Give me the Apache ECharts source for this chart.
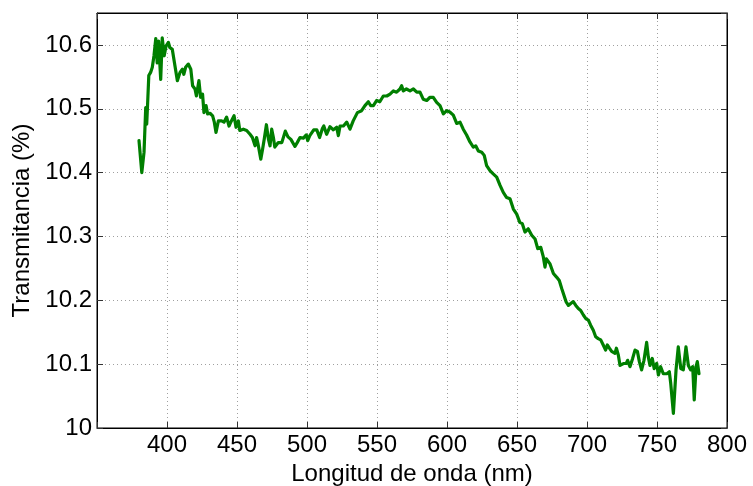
<!DOCTYPE html>
<html>
<head>
<meta charset="utf-8">
<script src="https://cdn.jsdelivr.net/npm/echarts@6/dist/echarts.min.js"></script>
<style>
  html, body { margin: 0; padding: 0; background: #fff; }
  #chart { width: 753px; height: 486px; }
</style>
</head>
<body>
<div id="chart"></div>
<script>
// Spectral transmittance sample: wavelength (nm) and transmittance (%)
const wavelengthNm = [
  380, 382, 383.6, 384.8, 385.5, 386, 387, 388.3, 389.5, 390.7,
  392, 393, 394, 395.5, 396.6, 398, 399.3, 401, 402, 403.8,
  405.7, 407.4, 409.3, 411, 412, 413.3, 415.2, 417, 418.3, 420,
  421, 422.8, 424, 425.4, 426.4, 427.9, 429, 430.7, 432.6, 433.8,
  435, 436.7, 439, 440.7, 442.6, 444.3, 446, 447.9, 449.3, 451,
  452, 454.5, 456.9, 459.3, 461, 462.9, 464, 465, 467, 468.3,
  469.5, 471, 472.4, 473.6, 474.8, 476, 477, 478.4, 479.5, 480.7,
  482, 483, 484.5, 486.4, 488.5, 491.4, 493, 495, 497.4, 499.5,
  500.5, 502, 503.3, 504.8, 507, 509, 511, 512, 514, 516.4,
  518.8, 521.2, 522.4, 523.6, 526, 528.4, 530.7, 533, 536, 539,
  541.4, 543.8, 545.5, 547.4, 549.8, 552, 554.5, 557, 559.3, 561.7,
  564, 566.4, 567.6, 568.8, 571, 573.6, 576, 578.4, 580.7, 583,
  585.5, 587.9, 590.2, 592.6, 595, 596, 597.4, 599.8, 602, 604.5,
  606.9, 609.3, 611.6, 614, 616.4, 618.8, 620.5, 622.4, 624.8, 626.6,
  628.3, 630.7, 633, 635.5, 637.9, 640.2, 642.6, 645, 647.4, 649.8,
  652, 653.8, 655.7, 658, 660.5, 662.9, 664.8, 667, 668.8, 670,
  671, 673.6, 676, 678.4, 680.2, 682, 683, 685, 686.7, 688.4,
  690.2, 692, 693.8, 695.5, 697.4, 699.3, 701, 702.6, 704.5, 706.2,
  708, 709.8, 711.6, 713.3, 714.5, 716, 717.6, 718.8, 720, 721,
  722.4, 723.6, 726, 728, 729, 730.7, 732.6, 734.3, 736, 737.4,
  739, 740.7, 742.6, 743.8, 745, 746.6, 748, 749.8, 751, 752.6,
  754.5, 757, 758.8, 759.8, 761.7, 763.6, 765.2, 767, 768.8, 770.7,
  772.4, 774, 775.5, 776.6, 777.9, 778.8, 780
];

const transmittancePct = [
  10.450, 10.400, 10.432, 10.502, 10.476, 10.500, 10.552, 10.557, 10.565, 10.583,
  10.610, 10.572, 10.606, 10.546, 10.611, 10.583, 10.598, 10.604, 10.596, 10.593,
  10.567, 10.544, 10.557, 10.562, 10.554, 10.565, 10.570, 10.562, 10.536, 10.531,
  10.520, 10.544, 10.518, 10.523, 10.494, 10.505, 10.492, 10.493, 10.489, 10.479,
  10.463, 10.481, 10.481, 10.479, 10.487, 10.473, 10.481, 10.489, 10.471, 10.481,
  10.466, 10.468, 10.466, 10.460, 10.455, 10.442, 10.455, 10.445, 10.421, 10.437,
  10.453, 10.475, 10.453, 10.442, 10.468, 10.455, 10.440, 10.440, 10.447, 10.445,
  10.447, 10.445, 10.465, 10.456, 10.452, 10.441, 10.447, 10.455, 10.454, 10.459,
  10.450, 10.458, 10.455, 10.467, 10.467, 10.455, 10.469, 10.473, 10.460, 10.472,
  10.467, 10.471, 10.458, 10.473, 10.473, 10.479, 10.468, 10.481, 10.494, 10.497,
  10.505, 10.511, 10.505, 10.505, 10.513, 10.511, 10.520, 10.520, 10.523, 10.528,
  10.526, 10.531, 10.536, 10.528, 10.531, 10.528, 10.531, 10.526, 10.526, 10.515,
  10.513, 10.518, 10.518, 10.510, 10.505, 10.505, 10.492, 10.497, 10.495, 10.490,
  10.477, 10.479, 10.468, 10.459, 10.448, 10.440, 10.442, 10.434, 10.432, 10.427,
  10.411, 10.403, 10.398, 10.393, 10.380, 10.369, 10.361, 10.359, 10.343, 10.335,
  10.322, 10.320, 10.307, 10.312, 10.302, 10.296, 10.281, 10.283, 10.268, 10.252,
  10.265, 10.257, 10.242, 10.236, 10.231, 10.218, 10.221, 10.198, 10.192, 10.195,
  10.198, 10.192, 10.187, 10.184, 10.177, 10.171, 10.169, 10.161, 10.153, 10.143,
  10.140, 10.138, 10.130, 10.122, 10.130, 10.125, 10.120, 10.122, 10.117, 10.125,
  10.114, 10.098, 10.101, 10.101, 10.106, 10.096, 10.109, 10.122, 10.120, 10.104,
  10.091, 10.106, 10.134, 10.111, 10.098, 10.109, 10.093, 10.101, 10.083, 10.096,
  10.085, 10.085, 10.088, 10.070, 10.023, 10.091, 10.127, 10.093, 10.091, 10.127,
  10.098, 10.091, 10.096, 10.044, 10.096, 10.104, 10.085
];

// Axis ranges and tick spacing
const xRange = [350, 800];
const xStep = 50;
const yRange = [10, 10.65];
const yStep = 0.1;

const xTitle = 'Longitud de onda (nm)';
const yTitle = 'Transmitancia (%)';

const FONT = '"Liberation Sans", Arial, Helvetica, sans-serif';
const gridLine = { show: true, lineStyle: { color: '#a0a0a0', width: 1, type: [1, 3] } };
const tickIn = { show: true, inside: true, length: 6, lineStyle: { color: '#333', width: 1 } };

const points = wavelengthNm.map((w, i) => [w, transmittancePct[i]]);

const chart = echarts.init(document.getElementById('chart'), null, { renderer: 'canvas' });
chart.setOption({
  animation: false,
  backgroundColor: '#ffffff',
  grid: {
    left: 97, right: 26, top: 13, bottom: 58,
    outerBoundsMode: 'none',
    containLabel: false,
    show: true, borderColor: '#000', borderWidth: 1, backgroundColor: 'transparent'
  },
  xAxis: [
    {
      type: 'value', position: 'bottom',
      min: xRange[0], max: xRange[1], interval: xStep,
      axisLine: { show: true, lineStyle: { color: '#000', width: 1 } },
      axisTick: tickIn,
      splitLine: gridLine,
      axisLabel: {
        color: '#000', fontFamily: FONT, fontSize: 24, margin: 5,
        formatter: v => (v === xRange[0] ? '' : String(v))
      },
      name: xTitle, nameLocation: 'middle', nameGap: 22,
      nameTextStyle: { color: '#000', fontFamily: FONT, fontSize: 24 }
    },
    {
      type: 'value', position: 'top',
      min: xRange[0], max: xRange[1], interval: xStep,
      axisLine: { show: true, lineStyle: { color: '#000', width: 1 } },
      axisTick: tickIn, axisLabel: { show: false }, splitLine: { show: false }
    }
  ],
  yAxis: [
    {
      type: 'value', position: 'left',
      min: yRange[0], max: yRange[1], interval: yStep,
      axisLine: { show: true, lineStyle: { color: '#000', width: 1 } },
      axisTick: tickIn,
      splitLine: gridLine,
      axisLabel: {
        color: '#000', fontFamily: FONT, fontSize: 24, margin: 5,
        showMaxLabel: false,
        formatter: v => (Math.abs(v - yRange[1]) < 1e-9 ? '' : String(Math.round(v * 10) / 10))
      },
      name: yTitle, nameLocation: 'middle', nameGap: 54,
      nameTextStyle: { color: '#000', fontFamily: FONT, fontSize: 24 }
    },
    {
      type: 'value', position: 'right',
      min: yRange[0], max: yRange[1], interval: yStep,
      axisLine: { show: true, lineStyle: { color: '#000', width: 1 } },
      axisTick: tickIn, axisLabel: { show: false }, splitLine: { show: false }
    }
  ],
  series: [
    {
      type: 'line',
      xAxisIndex: 0, yAxisIndex: 0,
      data: points,
      showSymbol: false,
      symbol: 'none',
      lineStyle: { color: '#007f00', width: 3.2, join: 'round', cap: 'round' },
      z: 3
    }
  ]
});
</script>
</body>
</html>
